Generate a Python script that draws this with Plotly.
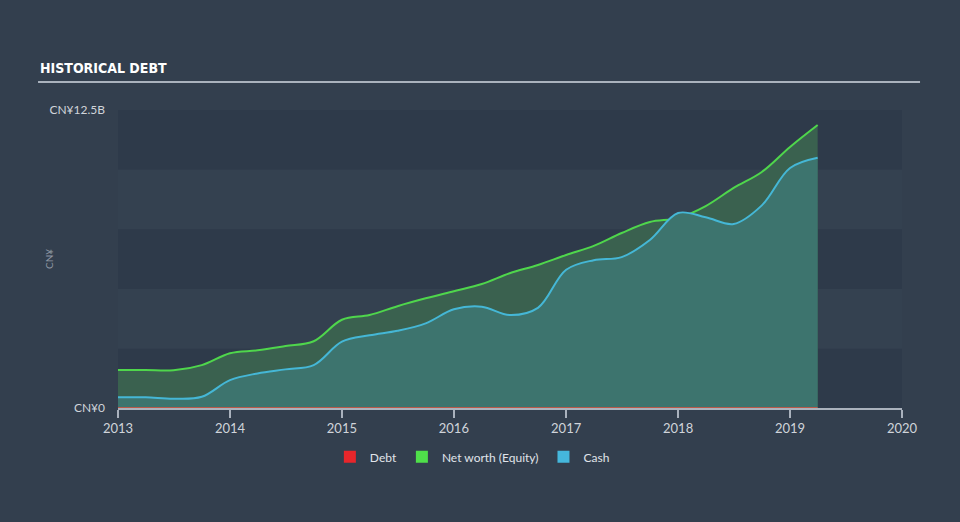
import plotly.graph_objects as go

dates = ["2013-01-01", "2013-04-01", "2013-07-01", "2013-10-01",
         "2014-01-01", "2014-04-01", "2014-07-01", "2014-10-01",
         "2015-01-01", "2015-04-01", "2015-07-01", "2015-10-01",
         "2016-01-01", "2016-04-01", "2016-07-01", "2016-10-01",
         "2017-01-01", "2017-04-01", "2017-07-01", "2017-10-01",
         "2018-01-01", "2018-04-01", "2018-07-01", "2018-10-01",
         "2019-01-01", "2019-04-01"]
debt = [0.0] * len(dates)
equity = [1.59, 1.59, 1.58, 1.80, 2.30, 2.42, 2.60, 2.80, 3.70, 3.90, 4.27, 4.60,
          4.90, 5.20, 5.65, 6.00, 6.42, 6.80, 7.34, 7.80, 7.97, 8.47, 9.23, 9.90,
          10.95, 11.87]
cash = [0.45, 0.45, 0.39, 0.47, 1.17, 1.45, 1.62, 1.80, 2.78, 3.05, 3.24, 3.55,
        4.14, 4.25, 3.90, 4.20, 5.80, 6.20, 6.33, 7.05, 8.18, 8.00, 7.72, 8.50,
        10.07, 10.50]
year_ticks = ["2013-01-01", "2014-01-01", "2015-01-01", "2016-01-01",
              "2017-01-01", "2018-01-01", "2019-01-01", "2020-01-01"]
year_labels = ["2013", "2014", "2015", "2016", "2017", "2018", "2019", "2020"]
y_ticks = [0, 12.5]
y_labels = ["CN¥0", "CN¥12.5B"]

BG = "#333f4e"
fig = go.Figure()

fig.add_trace(go.Scatter(x=dates, y=equity, mode="lines", fill="tozeroy",
                         line=dict(color="#4fd64c", width=2, shape="spline", smoothing=1.0),
                         fillcolor="#3a614f", showlegend=False, hoverinfo="skip"))
fig.add_trace(go.Scatter(x=dates, y=cash, mode="lines", fill="tozeroy",
                         line=dict(color="#45b7d6", width=2, shape="spline", smoothing=1.0),
                         fillcolor="#3d746e", showlegend=False, hoverinfo="skip"))
fig.add_trace(go.Scatter(x=dates, y=debt, mode="lines",
                         line=dict(color="#e0523f", width=1.5),
                         showlegend=False, hoverinfo="skip"))

for name, col in [("Debt", "#e8262b"), ("Net worth (Equity)", "#4fe04a"), ("Cash", "#45b7dc")]:
    fig.add_trace(go.Scatter(x=[None], y=[None], mode="markers", name=name,
                             marker=dict(symbol="square", size=14, color=col)))

# horizontal bands
shapes = []
band_cols = ["#2e3a4a", "#344150", "#2e3a4a", "#344150", "#2e3a4a"]
for i, c in enumerate(band_cols):
    shapes.append(dict(type="rect", xref="paper", yref="y", x0=0, x1=1,
                       y0=i * 2.5, y1=(i + 1) * 2.5, fillcolor=c, line_width=0, layer="below"))
# title underline
shapes.append(dict(type="line", xref="paper", yref="paper", x0=-0.102, x1=1.023,
                   y0=1.094, y1=1.094, line=dict(color="#aab2bd", width=2)))

fig.update_layout(
    width=960, height=522,
    paper_bgcolor=BG, plot_bgcolor=BG,
    margin=dict(l=118, r=58, t=110, b=114),
    shapes=shapes,
    showlegend=True,
    legend=dict(orientation="h", x=0.452, xanchor="center", y=-0.164, yanchor="middle",
                font=dict(family="Lato, Open Sans, sans-serif", size=12, color="#e0e4ea"),
                bgcolor="rgba(0,0,0,0)", itemsizing="constant", itemwidth=30),
    xaxis=dict(type="date", range=["2013-01-01", "2020-01-01"],
               tickvals=year_ticks, ticktext=year_labels,
               showgrid=False, zeroline=False,
               showline=True, linecolor="#aab2bd", linewidth=1.5,
               ticks="outside", ticklen=8, tickcolor="#aab2bd", tickwidth=1.5,
               tickfont=dict(family="Lato, Open Sans, sans-serif", size=13, color="#d0d4da")),
    yaxis=dict(range=[0, 12.5], tickvals=y_ticks, ticktext=y_labels,
               showgrid=False, zeroline=False, showline=False, ticks="",
               ticklabelstandoff=12,
               tickfont=dict(family="Lato, Open Sans, sans-serif", size=12, color="#d0d4da")),
    annotations=[
        dict(text="<b>HISTORICAL DEBT</b>", xref="paper", yref="paper", x=-0.102, y=1.141,
             xanchor="left", yanchor="middle", showarrow=False,
             font=dict(family="DejaVu Sans Condensed, sans-serif",
                       size=14, color="#ffffff")),
        dict(text="CN¥", xref="paper", yref="paper", x=-0.088, y=0.5, textangle=-90,
             xanchor="center", yanchor="middle", showarrow=False,
             font=dict(family="Lato, sans-serif", size=10, color="#8e96a2")),
    ],
)

fig.write_html("out.html")
